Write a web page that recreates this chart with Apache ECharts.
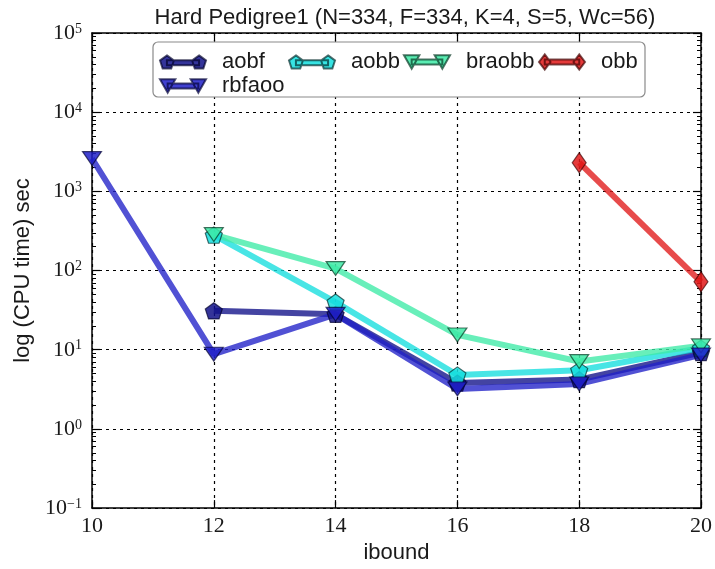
<!DOCTYPE html>
<html>
<head>
<meta charset="utf-8">
<script src="https://cdn.jsdelivr.net/npm/echarts@6/dist/echarts.min.js"></script>
<style>
  html, body { margin: 0; padding: 0; background: #fff; }
  #chart { width: 715px; height: 569px; }
</style>
</head>
<body>
<div id="chart"></div>
<script>
// ibound values on the x axis
const ibound = [10, 12, 14, 16, 18, 20];

// CPU time (sec) per solver, null where the solver has no result
const aobf   = [null, 31, 28, 3.8, 4.2, 9.2];
const aobb   = [null, 280, 40, 4.8, 5.5, 10.5];
const braobb = [null, 285, 106, 15.4, 7.1, 11.2];
const obb    = [null, null, null, null, 2300, 72];
const rbfaoo = [2600, 8.8, 28, 3.2, 3.7, 8.6];

// tick labels
const xTickLabels = ['10', '12', '14', '16', '18', '20'];
const yTickValues = [0.1, 1, 10, 100, 1000, 10000, 100000];
const yTickExponents = ['\u22121', '0', '1', '2', '3', '4', '5'];

function pairs(values) {
  const out = [];
  values.forEach((v, i) => { if (v !== null) out.push([ibound[i], v]); });
  return out;
}

// minor log ticks (2..9 x 10^k), placed on a linear axis that spans the log range
const minorTicks = [];
for (let k = -1; k < 5; k++) {
  for (let m = 2; m <= 9; m++) minorTicks.push(Math.log10(m * Math.pow(10, k)));
}

const PENTAGON = 'path://M0,-10L9.51,-3.09L5.88,8.09L-5.88,8.09L-9.51,-3.09Z';
const TRI_DOWN = 'path://M0,0L10,0L5,8.66Z';

const ICON_PENT = 'path://M7.5,6H40.5V11H7.5Z M7.5,1L14.63,6.18L11.91,14.57L3.09,14.57L0.37,6.18Z M40.5,1L47.63,6.18L44.91,14.57L36.09,14.57L33.37,6.18Z';
const ICON_TRI = 'path://M8,5.5H40V10.5H8Z M0,1L16,1L8,15Z M32,1L48,1L40,15Z';
const ICON_DIA = 'path://M6,5.5H42V10.5H6Z M6,0L12,8L6,16L0,8Z M42,0L48,8L42,16L36,8Z';

const SANS = 'Liberation Sans, Arial, sans-serif';
const SERIF = 'Liberation Serif, Times New Roman, serif';
const TEXT = '#1a1a1a';

function makeSeries(name, values, color, symbol, size, border) {
  return {
    name: name,
    type: 'line',
    data: pairs(values),
    xAxisIndex: 0,
    yAxisIndex: 0,
    symbol: symbol,
    symbolSize: size,
    symbolKeepAspect: true,
    showSymbol: true,
    lineStyle: { color: color, width: 6, opacity: 0.78 },
    itemStyle: { color: color, borderColor: border, borderWidth: 1.2, opacity: 0.85 },
    emphasis: { disabled: true },
    animation: false
  };
}

function legendItem(name, icon, left, top) {
  return {
    data: [{ name: name, icon: icon }],
    left: left, top: top,
    padding: 0,
    itemWidth: 46, itemHeight: 16,
    selectedMode: false,
    z: 8,
    textStyle: { fontFamily: SANS, fontSize: 22, color: TEXT, padding: [0, 0, 0, 11] }
  };
}

const gridLine = { show: true, lineStyle: { color: '#000', width: 1.2, type: [3, 4] } };
const frameLine = { show: true, onZero: false, lineStyle: { color: '#000', width: 1.5 } };

const chart = echarts.init(document.getElementById('chart'), null, { renderer: 'canvas' });
chart.setOption({
  backgroundColor: '#fff',
  animation: false,
  title: {
    text: 'Hard Pedigree1 (N=334, F=334, K=4, S=5, Wc=56)',
    left: 400, top: 2, textAlign: 'center',
    textStyle: { fontFamily: SANS, fontSize: 22, fontWeight: 'normal', color: TEXT }
  },
  grid: { left: 92, right: 7, top: 33, bottom: 58, containLabel: false },
  graphic: [{
    type: 'rect', z: 7,
    shape: { x: 153, y: 42, width: 492, height: 55, r: 5 },
    style: { fill: '#fff', stroke: '#8a8a8a', lineWidth: 1.2 }
  }],
  legend: [
    legendItem('aobf', ICON_PENT, 159, 51),
    legendItem('aobb', ICON_PENT, 288, 51),
    legendItem('braobb', ICON_TRI, 403, 51),
    legendItem('obb', ICON_DIA, 538, 51),
    legendItem('rbfaoo', ICON_TRI, 159, 75)
  ],
  xAxis: [{
    type: 'value', position: 'bottom', min: 10, max: 20, interval: 2,
    name: 'ibound', nameLocation: 'middle', nameGap: 30,
    nameTextStyle: { fontFamily: SANS, fontSize: 22, color: TEXT },
    axisLine: frameLine,
    axisTick: { show: true, inside: true, length: 8, lineStyle: { color: '#000', width: 1.2 } },
    splitLine: gridLine,
    axisLabel: {
      margin: 7, fontFamily: SERIF, fontSize: 22, color: TEXT,
      formatter: v => xTickLabels[ibound.indexOf(v)] ?? ''
    }
  }, {
    type: 'value', position: 'top', min: 10, max: 20, interval: 2,
    axisLine: frameLine,
    axisTick: { show: true, inside: true, length: 8, lineStyle: { color: '#000', width: 1.2 } },
    splitLine: { show: false },
    axisLabel: { show: false }
  }],
  yAxis: [{
    type: 'log', logBase: 10, position: 'left', min: 0.1, max: 100000,
    name: 'log (CPU time) sec', nameLocation: 'middle', nameGap: 56, nameRotate: 90,
    nameTextStyle: { fontFamily: SANS, fontSize: 22, color: TEXT },
    axisLine: frameLine,
    axisTick: { show: true, inside: true, length: 8, lineStyle: { color: '#000', width: 1.2 } },
    splitLine: gridLine,
    axisLabel: {
      margin: 10, color: TEXT,
      formatter: v => {
        let idx = -1;
        yTickValues.forEach((t, i) => { if (Math.abs(Math.log10(t) - Math.log10(v)) < 1e-6) idx = i; });
        return idx < 0 ? '' : '{b|10}{e|' + yTickExponents[idx] + '}';
      },
      rich: {
        b: { fontFamily: SERIF, fontSize: 22, lineHeight: 22, padding: [4, 0, 4, 0], color: TEXT },
        e: { fontFamily: SERIF, fontSize: 14, lineHeight: 14, verticalAlign: 'top', color: TEXT }
      }
    }
  }, {
    type: 'log', logBase: 10, position: 'right', min: 0.1, max: 100000,
    axisLine: frameLine,
    axisTick: { show: true, inside: true, length: 8, lineStyle: { color: '#000', width: 1.2 } },
    splitLine: { show: false },
    axisLabel: { show: false }
  }, {
    type: 'value', position: 'left', min: -1, max: 5,
    axisLine: { show: false },
    axisTick: { show: true, inside: true, length: 4, customValues: minorTicks, lineStyle: { color: '#000', width: 1 } },
    splitLine: { show: false },
    axisLabel: { show: false }
  }, {
    type: 'value', position: 'right', min: -1, max: 5,
    axisLine: { show: false },
    axisTick: { show: true, inside: true, length: 4, customValues: minorTicks, lineStyle: { color: '#000', width: 1 } },
    splitLine: { show: false },
    axisLabel: { show: false }
  }],
  series: [
    makeSeries('aobf', aobf, '#101088', PENTAGON, 17, 'rgba(0,0,40,0.8)'),
    makeSeries('aobb', aobb, '#14dede', PENTAGON, 17, 'rgba(0,40,40,0.8)'),
    makeSeries('braobb', braobb, '#3deaa6', TRI_DOWN, [19, 16], 'rgba(0,50,30,0.8)'),
    makeSeries('obb', obb, '#e01818', 'diamond', [14, 20], 'rgba(60,0,0,0.8)'),
    makeSeries('rbfaoo', rbfaoo, '#2020c8', TRI_DOWN, [19, 16], 'rgba(0,0,50,0.8)')
  ]
});
</script>
</body>
</html>
